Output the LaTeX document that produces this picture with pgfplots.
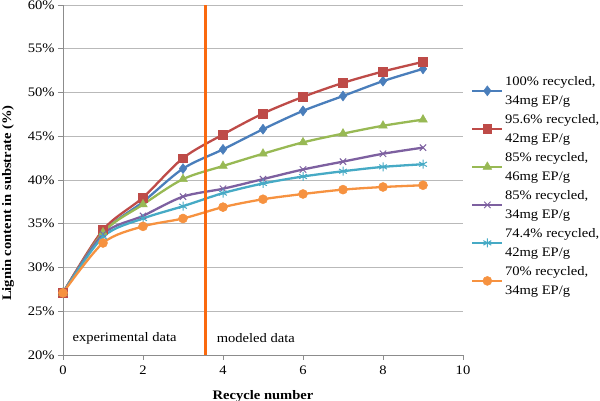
\documentclass[border=0pt]{standalone}
\usepackage{fontspec}
\setmainfont{Liberation Serif}[FakeStretch=1.12]
\usepackage{pgfplots}
\pgfplotsset{compat=1.18}
\definecolor{sblue}{HTML}{4A7EBB}
\definecolor{sred}{HTML}{BE4B48}
\definecolor{sgreen}{HTML}{98B954}
\definecolor{spurple}{HTML}{7D60A0}
\definecolor{scyan}{HTML}{46AAC5}
\definecolor{sorange}{HTML}{F69240}
\definecolor{vline}{RGB}{250,105,15}
\definecolor{gridc}{RGB}{185,185,185}
\definecolor{axc}{RGB}{140,140,140}
\begin{document}
\begin{tikzpicture}
\path[use as bounding box] (-63pt,-46pt) rectangle (537pt,355pt);
\begin{axis}[
  at={(0pt,0pt)}, anchor=south west,
  scale only axis, width=400pt, height=350pt,
  font=\fontsize{13}{17}\selectfont,
  xmin=0, xmax=10, ymin=20, ymax=60,
  xtick={0,2,...,10}, ytick={20,25,...,60},
  /pgf/number format/assume math mode=true,
  yticklabel={\pgfmathprintnumber{\tick}\%},
  xticklabel style={yshift=-2pt},
  axis x line=bottom, axis y line=left,
  axis line style={-, axc, line width=0.9pt},
  tick style={axc, line width=0.9pt},
  tick align=outside, major tick length=5pt,
  ymajorgrids, grid style={gridc, line width=0.9pt},
  clip=false,
  xlabel={\bfseries Recycle number},
  ylabel={\bfseries Lignin content in substrate (\%)},
  xlabel style={at={(axis description cs:0.5,-0.118)}, anchor=center},
  ylabel style={at={(axis description cs:-0.1375,0.434)}, anchor=center, rotate=0},
  legend style={at={(axis description cs:1.0,0.809)}, anchor=north west, draw=none, fill=none,
    font=\fontsize{13}{17}\selectfont, row sep=4.5pt, inner xsep=0pt, xshift=8pt,
    nodes={inner xsep=1.5pt}},
  legend cell align=left,
  legend style={cells={align=left}},
  legend image code/.code={\draw[mark repeat=2,mark phase=2] plot coordinates {(0pt,0pt)(15pt,0pt)(30pt,0pt)};},
  every axis plot/.append style={line width=2.3pt, smooth, tension=0.5},
]
\addplot[sblue, mark=diamond*, mark size=5pt, mark options={solid, line width=0.5pt}] coordinates {
(0,27.1) (1,34.0) (2,37.5) (3,41.3) (4,43.5) (5,45.8) (6,47.9) (7,49.6) (8,51.3) (9,52.7)};
\addlegendentry{100\% recycled,\\[2pt]34mg EP/g}
\addplot[sred, mark=square*, mark size=4.3pt, mark options={solid, line width=0.5pt}] coordinates {
(0,27.1) (1,34.3) (2,38.0) (3,42.5) (4,45.2) (5,47.6) (6,49.5) (7,51.1) (8,52.4) (9,53.5)};
\addlegendentry{95.6\% recycled,\\[2pt]42mg EP/g}
\addplot[sgreen, mark=triangle*, mark size=5pt, mark options={solid, line width=0.5pt}] coordinates {
(0,27.1) (1,34.0) (2,37.2) (3,40.1) (4,41.6) (5,43.0) (6,44.3) (7,45.3) (8,46.2) (9,46.9)};
\addlegendentry{85\% recycled,\\[2pt]46mg EP/g}
\addplot[spurple, mark=x, mark size=4.5pt, mark options={solid, line width=1pt}] coordinates {
(0,27.1) (1,33.8) (2,35.9) (3,38.1) (4,39.0) (5,40.1) (6,41.2) (7,42.1) (8,43.0) (9,43.7)};
\addlegendentry{85\% recycled,\\[2pt]34mg EP/g}
\addplot[scyan, mark=asterisk, mark size=4.5pt, mark options={solid, line width=1pt}] coordinates {
(0,27.1) (1,33.5) (2,35.6) (3,37.0) (4,38.5) (5,39.6) (6,40.4) (7,41.0) (8,41.5) (9,41.8)};
\addlegendentry{74.4\% recycled,\\[2pt]42mg EP/g}
\addplot[sorange, mark=*, mark size=4.5pt, mark options={solid, line width=0.5pt}] coordinates {
(0,27.1) (1,32.8) (2,34.7) (3,35.6) (4,36.9) (5,37.8) (6,38.4) (7,38.9) (8,39.2) (9,39.4)};
\addlegendentry{70\% recycled,\\[2pt]34mg EP/g}
\addplot[vline, line width=2.8pt, sharp plot, forget plot] coordinates {(3.56,20) (3.56,60)};
\node[anchor=center] at (axis cs:1.54,21.9) {experimental data};
\node[anchor=center] at (axis cs:4.82,21.9) {modeled data};
\end{axis}
\end{tikzpicture}
\end{document}
